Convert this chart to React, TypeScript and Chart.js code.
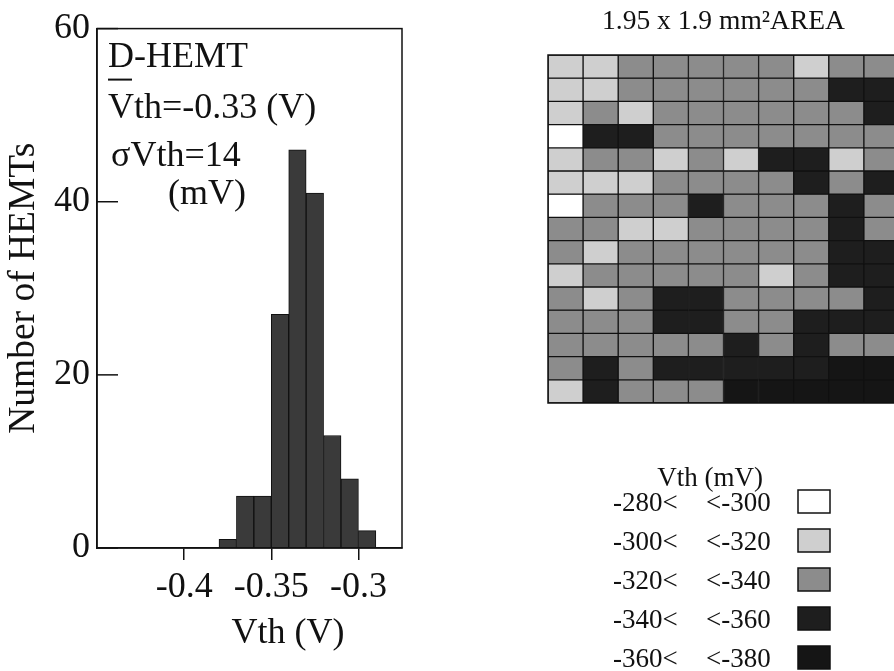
import React, { useEffect, useRef } from 'react';
import { Chart, registerables } from 'chart.js';

Chart.register(...registerables);

// ---------- Histogram data (Vth bins, 10 mV wide) ----------
const binCenters = [-0.375, -0.365, -0.355, -0.345, -0.335, -0.325, -0.315, -0.305, -0.295];
const binCounts = [1, 6, 6, 27, 46, 41, 13, 8, 2];
const xTickValues = [-0.4, -0.35, -0.3];
const xTickLabels = ['-0.4', '-0.35', '-0.3'];
const yTickValues = [0, 20, 40, 60];
const annotationLines = ['D-HEMT', 'Vth=-0.33 (V)', 'σVth=14', '(mV)'];

// ---------- Wafer map data (class index per cell, 15 rows x 10 columns) ----------
// 0: -280<..<-300, 1: -300<..<-320, 2: -320<..<-340, 3: -340<..<-360, 4: -360<..<-380
const gridColumns = ['1', '2', '3', '4', '5', '6', '7', '8', '9', '10'];
const gridRows: number[][] = [
  [1, 1, 2, 2, 2, 2, 2, 1, 2, 2],
  [1, 1, 2, 2, 2, 2, 2, 2, 3, 3],
  [1, 2, 1, 2, 2, 2, 2, 2, 2, 3],
  [0, 3, 3, 2, 2, 2, 2, 2, 2, 2],
  [1, 2, 2, 1, 2, 1, 3, 3, 1, 2],
  [1, 1, 1, 2, 2, 2, 2, 3, 2, 3],
  [0, 2, 2, 2, 3, 2, 2, 2, 3, 2],
  [2, 2, 1, 1, 2, 2, 2, 2, 3, 2],
  [2, 1, 2, 2, 2, 2, 2, 2, 3, 3],
  [1, 2, 2, 2, 2, 2, 1, 2, 3, 3],
  [2, 1, 2, 3, 3, 2, 2, 2, 2, 3],
  [2, 2, 2, 3, 3, 2, 2, 3, 3, 3],
  [2, 2, 2, 2, 2, 3, 2, 3, 2, 2],
  [2, 3, 2, 3, 3, 3, 3, 3, 4, 4],
  [1, 3, 2, 2, 2, 4, 4, 4, 4, 4],
];
const classLow = ['-280<', '-300<', '-320<', '-340<', '-360<'];
const classHigh = ['<-300', '<-320', '<-340', '<-360', '<-380'];
const mapTitle = '1.95 x 1.9 mm²AREA';
const legendTitle = 'Vth (mV)';
const xAxisTitle = 'Vth (V)';
const yAxisTitle = 'Number of HEMTs';

const classColors = ['#ffffff', '#cfcfcf', '#8c8c8c', '#1e1e1e', '#151515'];
const FONT = '"Liberation Serif", "Times New Roman", serif';
const INK = '#111111';

export default function App() {
  const histRef = useRef<HTMLCanvasElement>(null);
  const mapRef = useRef<HTMLCanvasElement>(null);

  useEffect(() => {
    const histDecor = {
      id: 'histDecor',
      afterDraw(chart: any) {
        const { ctx, chartArea: ca } = chart;
        const ys = chart.scales.y;
        ctx.save();
        ctx.strokeStyle = INK;
        ctx.lineWidth = 1.5;
        ctx.strokeRect(ca.left, ca.top, ca.right - ca.left, ca.bottom - ca.top);
        // inward y tick marks
        yTickValues.forEach((v) => {
          const py = ys.getPixelForValue(v);
          ctx.beginPath();
          ctx.moveTo(ca.left, py);
          ctx.lineTo(ca.left + 21, py);
          ctx.stroke();
        });
        // annotation
        ctx.fillStyle = INK;
        ctx.font = `36px ${FONT}`;
        ctx.textAlign = 'left';
        ctx.textBaseline = 'alphabetic';
        const lx = ca.left + 11;
        ctx.fillText(annotationLines[0], lx, ca.top + 38);
        ctx.fillText(annotationLines[1], lx, ca.top + 89);
        ctx.fillText(annotationLines[2], lx + 3, ca.top + 137);
        ctx.fillText(annotationLines[3], lx + 60, ca.top + 175);
        // mean overbar
        ctx.lineWidth = 2;
        ctx.beginPath();
        ctx.moveTo(lx, ca.top + 51);
        ctx.lineTo(lx + 24, ca.top + 51);
        ctx.stroke();
        // x axis title
        ctx.textAlign = 'center';
        ctx.fillText(xAxisTitle, 288, ca.bottom + 95);
        ctx.restore();
      },
    };

    const hist = new Chart(histRef.current as HTMLCanvasElement, {
      type: 'bar',
      data: {
        datasets: [
          {
            data: binCenters.map((x, i) => ({ x, y: binCounts[i] })),
            backgroundColor: '#3a3a3a',
            borderColor: INK,
            borderWidth: 1,
            borderSkipped: false,
            barPercentage: 1,
            categoryPercentage: 1,
          } as any,
        ],
      },
      options: {
        responsive: false,
        animation: false,
        devicePixelRatio: 1,
        layout: { padding: { top: 27, right: 18, left: 0, bottom: 0 } },
        plugins: { legend: { display: false }, tooltip: { enabled: false }, title: { display: false } },
        scales: {
          x: {
            type: 'linear',
            min: -0.45,
            max: -0.275,
            offset: false,
            afterBuildTicks: (s: any) => {
              s.ticks = xTickValues.map((v) => ({ value: v }));
            },
            afterFit: (s: any) => {
              s.height = 123;
            },
            ticks: {
              autoSkip: false,
              maxRotation: 0,
              padding: 6,
              color: INK,
              font: { size: 36, family: FONT },
              callback: (_v: any, i: number) => xTickLabels[i],
            },
            grid: { drawOnChartArea: false, drawTicks: true, tickLength: 12, color: INK, lineWidth: 1.5, offset: false },
            border: { display: true, color: INK, width: 1.5 },
          } as any,
          y: {
            type: 'linear',
            min: 0,
            max: 60,
            afterBuildTicks: (s: any) => {
              s.ticks = yTickValues.map((v) => ({ value: v }));
            },
            afterFit: (s: any) => {
              s.width = 97;
            },
            ticks: { padding: 7, color: INK, font: { size: 36, family: FONT } },
            grid: { display: false, drawTicks: false },
            border: { display: true, color: INK, width: 1.5 },
            title: {
              display: true,
              text: yAxisTitle,
              color: INK,
              font: { size: 37.5, family: FONT },
              padding: { top: 2, bottom: 0 },
            },
          } as any,
        },
      },
      plugins: [histDecor],
    });

    const mapDecor = {
      id: 'mapDecor',
      afterDraw(chart: any) {
        const { ctx, chartArea: ca } = chart;
        ctx.save();
        ctx.strokeStyle = INK;
        ctx.lineWidth = 1.5;
        ctx.strokeRect(ca.left, ca.top, ca.right - ca.left, ca.bottom - ca.top);
        // legend
        ctx.fillStyle = INK;
        ctx.font = `27px ${FONT}`;
        ctx.textBaseline = 'alphabetic';
        ctx.textAlign = 'center';
        ctx.fillText(legendTitle, 180, 486);
        classLow.forEach((lo, i) => {
          const by = 511 + 39 * i;
          ctx.textAlign = 'left';
          ctx.fillStyle = INK;
          ctx.fillText(lo, 83, by);
          ctx.fillText(classHigh[i], 176, by);
          ctx.fillStyle = classColors[i];
          ctx.fillRect(268, by - 21, 32, 23);
          ctx.lineWidth = 1.5;
          ctx.strokeRect(268, by - 21, 32, 23);
        });
        ctx.restore();
      },
    };

    const map = new Chart(mapRef.current as HTMLCanvasElement, {
      type: 'bar',
      data: {
        labels: gridColumns,
        datasets: gridRows.map((row, r) => ({
          data: row.map(() => [r, r + 1]),
          backgroundColor: row.map((k) => classColors[k]),
          borderColor: INK,
          borderWidth: 1,
          borderSkipped: false,
          grouped: false,
          barPercentage: 1,
          categoryPercentage: 1,
        })) as any,
      },
      options: {
        responsive: false,
        animation: false,
        devicePixelRatio: 1,
        layout: { padding: { left: 18, right: 21, top: 0, bottom: 268 } },
        plugins: {
          legend: { display: false },
          tooltip: { enabled: false },
          title: {
            display: true,
            text: mapTitle,
            color: INK,
            font: { size: 27.5, family: FONT, weight: 'normal' },
            padding: { top: 5, bottom: 17 },
          },
        },
        scales: {
          x: { type: 'category', display: false, offset: true },
          y: { type: 'linear', display: false, min: 0, max: 15, reverse: true },
        },
      },
      plugins: [mapDecor],
    });

    return () => {
      hist.destroy();
      map.destroy();
    };
  }, []);

  return (
    <div
      style={{
        position: 'absolute',
        left: 0,
        top: 0,
        width: 894,
        height: 671,
        overflow: 'hidden',
        background: '#ffffff',
      }}
    >
      <canvas
        ref={histRef}
        width={420}
        height={671}
        style={{ position: 'absolute', left: 0, top: 0, width: 420, height: 671 }}
      />
      <canvas
        ref={mapRef}
        width={390}
        height={671}
        style={{ position: 'absolute', left: 530, top: 0, width: 390, height: 671 }}
      />
    </div>
  );
}
